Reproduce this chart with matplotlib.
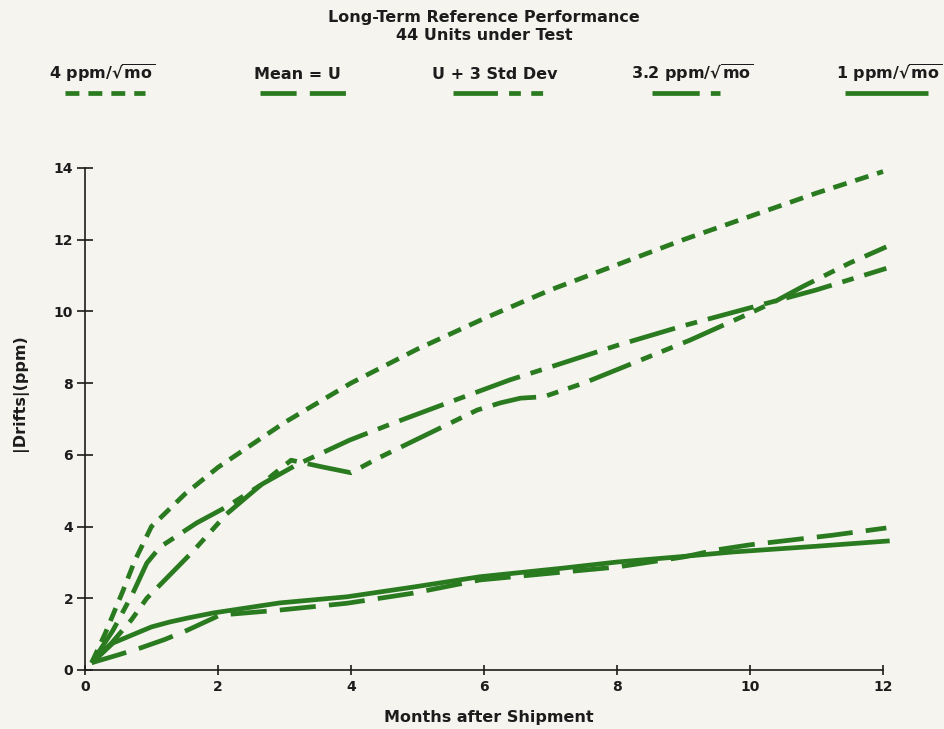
import matplotlib
matplotlib.use("Agg")
import matplotlib.pyplot as plt
from matplotlib.lines import Line2D
from matplotlib.offsetbox import DrawingArea, AnchoredOffsetbox

# values (months after shipment, |drift| in ppm)
x_4ppm = [0.1, 0.3, 0.57, 0.75, 1.0, 1.5, 2.0, 3.0, 4.0, 5.0, 6.0, 7.0, 8.0, 9.0, 10.0, 11.0, 12.0]
y_4ppm = [0.2, 1.0, 2.2, 3.05, 4.0, 4.9, 5.65, 6.9, 8.0, 8.95, 9.8, 10.6, 11.3, 12.0, 12.65, 13.3, 13.9]

x_mean = [0.1, 0.5, 0.83, 1.2, 1.53, 2.03, 2.93, 3.94, 4.93, 5.94, 7.19, 8.0, 9.0, 9.5, 10.0, 11.25, 12.05]
y_mean = [0.2, 0.42, 0.61, 0.85, 1.1, 1.53, 1.67, 1.86, 2.14, 2.51, 2.73, 2.87, 3.15, 3.35, 3.49, 3.76, 3.96]

x_3std = [0.1, 0.4, 0.7, 0.93, 1.17, 1.62, 2.13, 2.83, 3.1, 3.6, 4.0, 4.4, 5.4, 5.9,
          6.25, 6.55, 6.9, 7.5, 8.5, 9.1, 10.0, 10.4, 10.8, 11.5, 12.05]
y_3std = [0.2, 0.75, 1.4, 2.0, 2.45, 3.3, 4.35, 5.45, 5.85, 5.65, 5.5, 5.9, 6.8, 7.25,
          7.45, 7.58, 7.62, 8.0, 8.75, 9.2, 9.95, 10.3, 10.7, 11.35, 11.8]

x_32ppm = [0.1, 0.42, 0.72, 0.93, 1.13, 1.68, 2.13, 2.68, 3.18, 3.98, 4.63, 5.44, 6.39, 7.0, 8.0, 9.0, 10.0, 11.0, 12.05]
y_32ppm = [0.2, 1.1, 2.14, 2.98, 3.43, 4.1, 4.55, 5.2, 5.72, 6.41, 6.88, 7.44, 8.09, 8.45, 9.05, 9.6, 10.1, 10.6, 11.2]

x_1ppm = [0.1, 0.25, 0.42, 0.78, 1.0, 1.28, 1.55, 1.93, 2.93, 3.94, 4.93, 5.94, 7.19, 8.0, 8.9, 9.74, 11.0, 12.1]
y_1ppm = [0.2, 0.45, 0.75, 1.03, 1.2, 1.34, 1.45, 1.59, 1.87, 2.04, 2.31, 2.6, 2.84, 3.01, 3.15, 3.29, 3.45, 3.6]

labels = [r"4 ppm/$\sqrt{\mathbf{mo}}$", "Mean = U", "U + 3 Std Dev",
          r"3.2 ppm/$\sqrt{\mathbf{mo}}$", r"1 ppm/$\sqrt{\mathbf{mo}}$"]

green = "#2a7a1f"
ink = "#1c1c1c"
bg = "#f5f4ef"

plt.rcParams["font.family"] = "DejaVu Sans"
plt.rcParams["font.weight"] = "bold"
plt.rcParams["lines.scale_dashes"] = False

fig = plt.figure(figsize=(9.44, 7.29), dpi=100, facecolor=bg)
ax = fig.add_axes([0.090, 0.081, 0.8454, 0.6886], facecolor=bg)

lw = 3.4
styles = [(0, (10, 6.5)), (0, (26, 9.5)), (0, (32, 8, 8.5, 7.5, 8.5, 8)),
          (0, (34, 8, 8.5, 8)), "solid"]
series = [(x_4ppm, y_4ppm), (x_mean, y_mean), (x_3std, y_3std),
          (x_32ppm, y_32ppm), (x_1ppm, y_1ppm)]
for (xs, ys), ls in zip(series, styles):
    ax.plot(xs, ys, color=green, lw=lw, linestyle=ls, solid_capstyle="butt",
            clip_on=False)

ax.set_xlim(0, 12)
ax.set_ylim(0, 14)
ax.set_xticks(range(0, 13, 2))
ax.set_yticks(range(0, 15, 2))
for s in ("top", "right"):
    ax.spines[s].set_visible(False)
for s in ("left", "bottom"):
    ax.spines[s].set_color(ink)
    ax.spines[s].set_linewidth(1.2)
ax.tick_params(axis="x", direction="inout", length=7, width=1.2, color=ink,
               labelsize=10, labelcolor=ink, pad=4)
ax.tick_params(axis="y", direction="inout", length=11, width=1.2, color=ink,
               labelsize=10, labelcolor=ink, pad=3)

ax.set_xlabel("Months after Shipment", fontsize=11.5, fontweight="bold", color=ink, va="center")
ax.xaxis.set_label_coords(0.506, -0.0956)
ax.set_ylabel("|Drifts|(ppm)", fontsize=11.5, fontweight="bold", color=ink, va="center")
ax.yaxis.set_label_coords(-0.0815, 0.552)

fig.text(0.5127, 0.963, "Long-Term Reference Performance\n44 Units under Test",
         ha="center", va="center", fontsize=11.5, fontweight="bold", color=ink,
         linespacing=1.25)

# legend: label on top, line sample underneath
text_x = [102.5, 297.5, 494.5, 692.5, 889]
line_x = [105, 303.5, 500, 686, 886.5]
line_w = [57.6, 62.6, 67.7, 49, 59.8]
for lab, ls, tx, cx, w in zip(labels, styles, text_x, line_x, line_w):
    fig.text(tx / 944, 1 - 79 / 729, lab, ha="center", va="baseline",
             fontsize=11.5, fontweight="bold", color=ink)
    da = DrawingArea(w, 6)
    da.add_artist(Line2D([0, w], [3, 3], color=green, lw=lw, linestyle=ls,
                         solid_capstyle="butt"))
    anc = AnchoredOffsetbox(loc="center", child=da, pad=0, borderpad=0,
                            bbox_to_anchor=(cx / 944, 1 - 93 / 729),
                            bbox_transform=fig.transFigure, frameon=False)
    fig.add_artist(anc)

fig.savefig("out.png", dpi=100, facecolor=bg)
